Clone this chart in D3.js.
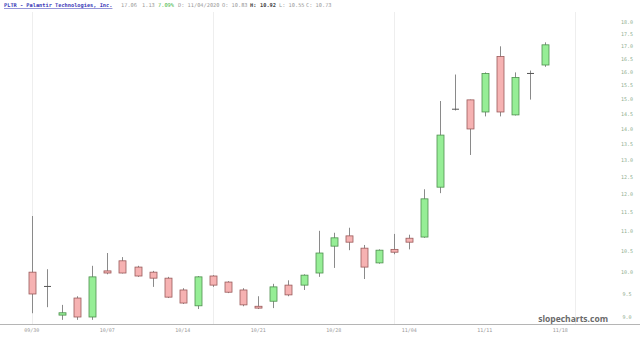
<!DOCTYPE html>
<html>
<head>
<meta charset="utf-8">
<script src="https://cdn.jsdelivr.net/npm/d3@7"></script>
<style>
  html, body { margin: 0; padding: 0; background: #fff; }
  svg { display: block; }
</style>
</head>
<body>
<svg id="chart" width="640" height="338"></svg>
<script>
// daily bars, 09/30 .. 11/17
const dates = ["09/30","10/01","10/02","10/05","10/06","10/07","10/08","10/09","10/12","10/13",
  "10/14","10/15","10/16","10/19","10/20","10/21","10/22","10/23","10/26","10/27",
  "10/28","10/29","10/30","11/02","11/03","11/04","11/05","11/06","11/09","11/10",
  "11/11","11/12","11/13","11/16","11/17"];
const opens  = [10.00, 9.68, 9.04, 9.41, 9.00, 10.03, 10.27, 10.12, 10.00, 9.86,
  9.59, 9.24, 9.91, 9.77, 9.59, 9.23, 9.34, 9.70, 9.70, 9.98,
  10.63, 10.89, 10.58, 10.22, 10.55, 10.83, 10.86, 12.21, 14.68, 14.99,
  14.57, 16.60, 14.47, 15.97, 16.27];
const highs  = [11.41, 10.07, 9.26, 9.45, 10.15, 10.46, 10.36, 10.15, 10.03, 9.89,
  9.63, 9.91, 9.93, 9.79, 9.63, 9.45, 9.73, 9.81, 9.95, 11.02,
  10.97, 11.10, 10.66, 10.55, 10.94, 10.92, 12.15, 14.95, 15.91, 15.00,
  15.99, 17.00, 15.99, 16.06, 17.16];
const lows   = [9.08, 9.21, 8.94, 8.94, 8.94, 9.95, 9.97, 9.89, 9.66, 9.41,
  9.28, 9.17, 9.66, 9.52, 9.23, 9.17, 9.19, 9.45, 9.59, 9.89,
  10.10, 10.53, 9.84, 10.20, 10.43, 10.55, 10.84, 12.04, 14.62, 13.17,
  14.42, 14.42, 14.45, 15.00, 16.20];
const closes = [9.50, 9.66, 9.09, 9.00, 9.89, 9.98, 9.98, 9.91, 9.86, 9.43,
  9.30, 9.89, 9.70, 9.54, 9.26, 9.19, 9.66, 9.48, 9.93, 10.46,
  10.84, 10.73, 10.12, 10.53, 10.48, 10.73, 11.88, 13.80, 14.65, 14.00,
  15.95, 14.57, 15.80, 15.93, 17.06];

const xTickIdx = [0, 5, 10, 15, 20, 25, 30, 35];
const xTickLabels = ["09/30","10/07","10/14","10/21","10/28","11/04","11/11","11/18"];
const yTicks = d3.range(9, 18.01, 0.5);
const gridIdx = [0, 12, 24, 36];

const svg = d3.select("#chart");

const x = d3.scaleLinear().domain([0, 35]).range([31.8, 560.3]);
const y = d3.scaleLog().domain([9, 18]).range([317, 22]);

const bars = dates.map((d, i) => ({
  i, date: d, o: opens[i], h: highs[i], l: lows[i], c: closes[i]
}));

// faint vertical grid
svg.append("g").selectAll("line")
  .data(gridIdx)
  .join("line")
  .attr("x1", d => Math.round(x(d)) + 0.5)
  .attr("x2", d => Math.round(x(d)) + 0.5)
  .attr("y1", 12)
  .attr("y2", 324)
  .attr("stroke", "#eeeeee")
  .attr("stroke-width", 1);

// bottom axis line
svg.append("line")
  .attr("x1", 0).attr("x2", 640)
  .attr("y1", 324.5).attr("y2", 324.5)
  .attr("stroke", "#b5b5b5");

// x tick labels
svg.append("g").selectAll("text")
  .data(xTickIdx)
  .join("text")
  .attr("x", d => x(d))
  .attr("y", 332)
  .attr("text-anchor", "middle")
  .attr("font-family", "DejaVu Sans Mono, monospace")
  .attr("font-size", "5px")
  .attr("fill", "#999")
  .text((d, i) => xTickLabels[i]);

// y tick labels on the right
svg.append("g").selectAll("text")
  .data(yTicks)
  .join("text")
  .attr("x", 627)
  .attr("y", d => y(d) + 1.8)
  .attr("text-anchor", "middle")
  .attr("font-family", "DejaVu Sans Mono, monospace")
  .attr("font-size", "5px")
  .attr("fill", "#8fae8f")
  .text(d => d.toFixed(1));

// candles
const bodyW = 7;
const candles = svg.append("g").selectAll("g")
  .data(bars)
  .join("g");

candles.append("line")
  .attr("x1", d => Math.round(x(d.i)) + 0.5)
  .attr("x2", d => Math.round(x(d.i)) + 0.5)
  .attr("y1", d => y(d.h))
  .attr("y2", d => y(d.l))
  .attr("stroke", "#8a8a8a")
  .attr("stroke-width", 1);

candles.each(function(d) {
  const g = d3.select(this);
  const cx = Math.round(x(d.i)) + 0.5;
  const top = y(Math.max(d.o, d.c));
  const bot = y(Math.min(d.o, d.c));
  if (bot - top < 1.5) {
    // doji: horizontal tick
    g.append("line")
      .attr("x1", cx - bodyW / 2).attr("x2", cx + bodyW / 2)
      .attr("y1", (top + bot) / 2).attr("y2", (top + bot) / 2)
      .attr("stroke", "#555").attr("stroke-width", 1);
  } else {
    const up = d.c >= d.o;
    g.append("rect")
      .attr("x", cx - bodyW / 2)
      .attr("y", top)
      .attr("width", bodyW)
      .attr("height", bot - top)
      .attr("fill", up ? "#96ee96" : "#f6b2b2")
      .attr("stroke", up ? "#4e8f4e" : "#9a5a5a")
      .attr("stroke-width", 0.8);
  }
});

// header
const header = svg.append("g")
  .attr("font-family", "DejaVu Sans Mono, monospace")
  .attr("font-size", "5.3px");

header.append("text")
  .attr("x", 4).attr("y", 7)
  .attr("fill", "#3b3bb8")
  .attr("font-weight", "bold")
  .attr("text-decoration", "underline")
  .text("PLTR - Palantir Technologies, Inc.");

const headItems = [
  { x: 121, t: "17.06", c: "#999", w: "normal" },
  { x: 142, t: "1.13", c: "#999", w: "normal" },
  { x: 158, t: "7.09%", c: "#3cb53c", w: "normal" },
  { x: 178, t: "D: 11/04/2020", c: "#999", w: "normal" },
  { x: 222, t: "O: 10.83", c: "#999", w: "normal" },
  { x: 250, t: "H:", c: "#444", w: "bold" },
  { x: 260, t: "10.92", c: "#444", w: "bold" },
  { x: 279, t: "L: 10.55", c: "#999", w: "normal" },
  { x: 306, t: "C: 10.73", c: "#999", w: "normal" }
];
header.selectAll("text.item")
  .data(headItems)
  .join("text")
  .attr("class", "item")
  .attr("x", d => d.x).attr("y", 7)
  .attr("fill", d => d.c)
  .attr("font-weight", d => d.w)
  .text(d => d.t);

// watermark
svg.append("text")
  .attr("x", 608).attr("y", 322)
  .attr("text-anchor", "end")
  .attr("font-family", "Open Sans, DejaVu Sans, sans-serif")
  .attr("font-weight", "bold")
  .attr("font-size", "8.5px")
  .attr("fill", "#6a6a6a")
  .text("slopecharts.com");
</script>
</body>
</html>
